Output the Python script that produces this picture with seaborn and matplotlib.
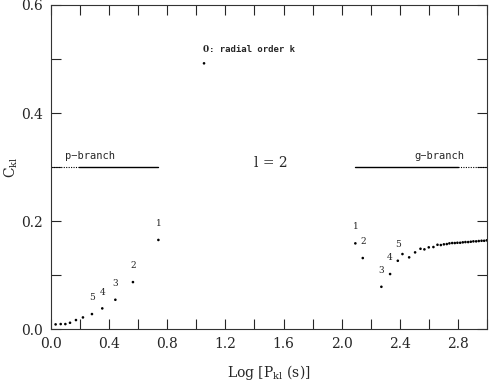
import numpy as np
import pandas as pd
import matplotlib
matplotlib.use('Agg')
import matplotlib.pyplot as plt
from matplotlib.ticker import MultipleLocator
import seaborn as sns

# p-branch modes (log period, C_kl)
p_logP = [0.032, 0.067, 0.099, 0.131, 0.172, 0.220, 0.282, 0.353, 0.443, 0.564, 0.739]
p_ckl = [0.0087, 0.0093, 0.0093, 0.0117, 0.0167, 0.0216, 0.0278, 0.0383, 0.0543, 0.087, 0.165]

# radial order k = 0
f_logP = [1.053]
f_ckl = [0.492]

# g-branch modes
g_logP = [2.094, 2.145, 2.273, 2.333, 2.386, 2.418, 2.464, 2.505, 2.542, 2.569,
          2.599, 2.631, 2.659, 2.682, 2.703, 2.723, 2.741, 2.760, 2.778, 2.796,
          2.815, 2.833, 2.851, 2.870, 2.888, 2.906, 2.925, 2.943, 2.962, 2.980, 2.998]
g_ckl = [0.1587, 0.1315, 0.0783, 0.1019, 0.1265, 0.1389, 0.1328, 0.142, 0.1487, 0.1476,
         0.1513, 0.1519, 0.1561, 0.1556, 0.1569, 0.1574, 0.1587, 0.1593, 0.1593, 0.1598,
         0.1598, 0.1606, 0.1611, 0.1611, 0.1617, 0.1624, 0.1624, 0.163, 0.1635, 0.1635, 0.1643]

# radial order labels for the first five modes of each branch
p_labels = {1: 0.739, 2: 0.564, 3: 0.443, 4: 0.353, 5: 0.282}
g_labels = ['1', '2', '3', '4', '5']

sns.set_style("ticks")
plt.rcParams['font.family'] = ['DejaVu Serif']
plt.rcParams['mathtext.fontset'] = 'dejavuserif'

df = pd.concat([
    pd.DataFrame({'logP': p_logP, 'ckl': p_ckl, 'branch': 'p'}),
    pd.DataFrame({'logP': f_logP, 'ckl': f_ckl, 'branch': 'f'}),
    pd.DataFrame({'logP': g_logP, 'ckl': g_ckl, 'branch': 'g'}),
])

fig = plt.figure(figsize=(4.9, 3.84), dpi=100)
ax = fig.add_axes([0.104, 0.143, 0.890, 0.844])

sns.scatterplot(df, x='logP', y='ckl', ax=ax, color='k', marker='o', s=3.5,
                edgecolor='none', legend=False)

# mode labels
for k, x in p_labels.items():
    y = p_ckl[p_logP.index(x)]
    ax.text(x, y + 0.022, str(k), ha='center', va='bottom', fontsize=6.5)
for i, lab in enumerate(g_labels):
    ax.text(g_logP[i], g_ckl[i] + 0.022, lab, ha='center', va='bottom', fontsize=6.5)
ax.text(f_logP[0] - 0.01, f_ckl[0] + 0.018, '0', ha='left', va='bottom',
        fontsize=6.5, fontweight='bold')
ax.text(f_logP[0] + 0.035, f_ckl[0] + 0.018, ': radial order k', ha='left', va='bottom',
        fontsize=6.5, family='DejaVu Sans Mono', fontweight='bold')

# branch indicators
ax.plot([0.0, 0.19], [0.3, 0.3], color='k', lw=0.8, ls=(0, (1, 1.2)))
ax.plot([0.19, 0.739], [0.3, 0.3], color='k', lw=1.0)
ax.plot([2.094, 2.803], [0.3, 0.3], color='k', lw=1.0)
ax.plot([2.803, 3.0], [0.3, 0.3], color='k', lw=0.8, ls=(0, (1, 1.2)))
ax.text(0.27, 0.312, 'p\u2212branch', ha='center', va='bottom', fontsize=7.5,
        family='DejaVu Sans Mono')
ax.text(2.67, 0.312, 'g\u2212branch', ha='center', va='bottom', fontsize=7.5,
        family='DejaVu Sans Mono')
ax.text(1.51, 0.307, 'l = 2', ha='center', va='center', fontsize=10)

ax.set_xlim(0, 3.0)
ax.set_ylim(0, 0.6)
ax.xaxis.set_minor_locator(MultipleLocator(0.2))
ax.yaxis.set_minor_locator(MultipleLocator(0.1))
ax.set_xticks(np.arange(0, 2.81, 0.4))
ax.set_xticklabels([f'{v:.1f}' for v in np.arange(0, 2.81, 0.4)])
ax.set_yticks(np.arange(0, 0.61, 0.2))
ax.set_yticklabels([f'{v:.1f}' for v in np.arange(0, 0.61, 0.2)])
ax.tick_params(which='both', direction='in', top=True, right=True,
               length=7, width=0.8, labelsize=10, pad=6)
for sp in ax.spines.values():
    sp.set_linewidth(0.8)
    sp.set_color('#333333')

ax.set_xlabel(r'Log [P$_{\rm kl}$ (s)]', fontsize=10)
ax.set_ylabel(r'C$_{\rm kl}$', fontsize=10)
ax.xaxis.set_label_coords(0.5, -0.105)
ax.yaxis.set_label_coords(-0.07, 0.5)

fig.savefig('out.png', dpi=100)
